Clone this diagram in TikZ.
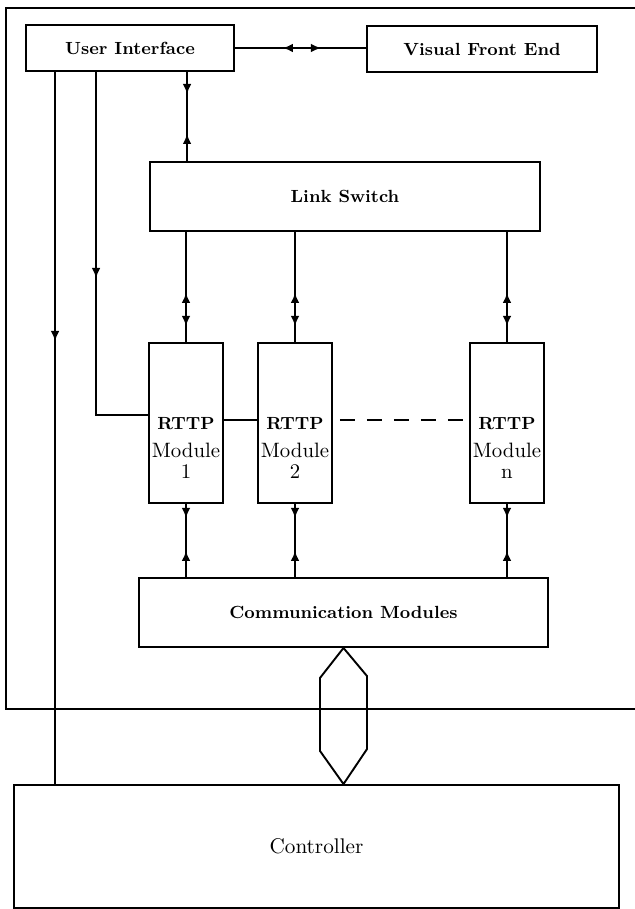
\documentclass[tikz,border=0pt]{standalone}
\usetikzlibrary{arrows.meta,decorations.markings,calc}
\begin{document}
\begin{tikzpicture}[x=0.5pt,y=-0.5pt,line width=0.95pt,
  box/.style={draw,inner sep=0pt,font=\fontsize{8.8}{10.5}\selectfont\bfseries},
  modbox/.style={box,minimum width=37pt,minimum height=80pt},
  fw/.style={postaction={decorate},decoration={markings,
     mark=at position #1 with {\arrow{Latex[length=5pt,width=4.4pt]}}}},
  bifr/.style 2 args={postaction={decorate},decoration={markings,
     mark=at position #1 with {\arrow{Latex[length=5pt,width=4.4pt]}},
     mark=at position #2 with {\arrowreversed{Latex[length=5pt,width=4.4pt]}}}},
  birf/.style 2 args={postaction={decorate},decoration={markings,
     mark=at position #1 with {\arrowreversed{Latex[length=5pt,width=4.4pt]}},
     mark=at position #2 with {\arrow{Latex[length=5pt,width=4.4pt]}}}},
  rttp/.style={anchor=base,inner sep=0pt,font=\fontsize{8.8}{10}\selectfont\bfseries},
  modtxt/.style={anchor=base,inner sep=0pt,font=\fontsize{10.4}{12}\selectfont}
]
\useasboundingbox (0,0) rectangle (635,909);

% outer frame (open to the right)
\coordinate (fTR) at (635,8);
\coordinate (fTL) at (6,8);
\coordinate (fBL) at (6,709);
\coordinate (fBR) at (635,709);
\draw (fTR) -- (fTL) -- (fBL) -- (fBR);

% boxes
\node[box,minimum width=104pt,minimum height=23pt] (ui) at (130,48) {User Interface};
\node[box,minimum width=115pt,minimum height=23pt] (vfe) at (482,49) {Visual Front End};
\node[box,minimum width=195pt,minimum height=34.5pt] (ls) at (345,196.5) {Link Switch};
\node[modbox] (m1) at (186,423) {};
\node[modbox] (m2) at (295,423) {};
\node[modbox] (mn) at (507,423) {};
\node[box,minimum width=204.5pt,minimum height=34.5pt] (comm) at (343.5,612.5) {Communication Modules};
\node[box,font=\fontsize{10.6}{12}\selectfont,minimum width=302.5pt,minimum height=61.5pt] (ctrl) at (316.5,846.5) {Controller};

% module texts
\foreach \m/\n in {m1/1,m2/2,mn/n}{
  \node[rttp] (\m a) at ($(\m.center)+(0,6)$) {RTTP};
  \node[modtxt] (\m b) at ($(\m.center)+(0,34)$) {Module};
  \node[modtxt] (\m c) at ($(\m.center)+(0,55)$) {\n};
}

% UI <-> Visual Front End
\draw[birf={24pt}{43pt}] (ui.east) -- (ui.east -| vfe.west);

% UI <-> Link Switch
\coordinate (uiC) at ($(ui.south west)+(162,0)$);
\draw[bifr={11pt}{31pt}] (uiC) -- (uiC |- ls.north);

% Link Switch <-> modules
\foreach \m in {m1,m2,mn}{
  \draw[birf={30.5pt}{47pt}] (ls.south -| \m.north) -- (\m.north);
  \draw[bifr={7pt}{23.5pt}] (\m.south) -- (\m.south |- comm.north);
}

% module interconnection
\draw ($(m1.east)+(0,-3)$) -- ($(m2.west)+(0,-3)$);
\draw[dash pattern=on 7.5pt off 6pt,dash phase=10pt] ($(m2.east)+(0,-3)$) -- ($(mn.west)+(0,-3)$);

% UI -> module 1
\coordinate (uiB) at ($(ui.south west)+(71,0)$);
\coordinate (m1in) at ($(m1.west)+(0,-8)$);
\draw[line width=0.8pt,fw=103pt] (uiB) -- (uiB |- m1in) -- (m1in);

% UI -> Controller
\coordinate (uiA) at ($(ui.south west)+(30,0)$);
\draw[line width=0.8pt,fw=134.5pt] (uiA) -- (uiA |- ctrl.north);

% bus between Communication Modules and Controller
\coordinate (hexT) at (comm.south);
\coordinate (hexB) at (comm.south |- ctrl.north);
\draw (hexT) -- ++(-23.5,30) -- ++(0,73) -- (hexB) -- ++(23.5,-35) -- ++(0,-73) -- cycle;
\end{tikzpicture}
\end{document}
